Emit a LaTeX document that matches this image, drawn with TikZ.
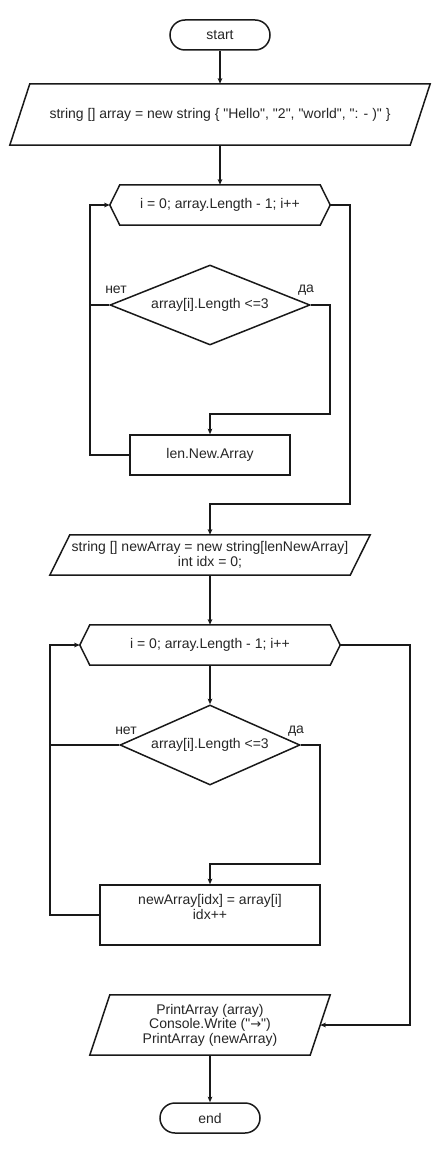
\documentclass[tikz,border=0pt]{standalone}
\usepackage{fontspec}
\setmainfont{Liberation Sans}[Ligatures=TeXOff]
\newfontfamily\arrowfont{DejaVu Sans}
\usetikzlibrary{shapes.geometric,arrows.meta,calc}

\begin{document}
\begin{tikzpicture}[x=1pt,y=-1pt,
  every node/.style={font=\fontsize{14}{14.5}\selectfont, text=black!85},
  ln/.style={line width=1.5pt, draw=black!90},
  arr/.style={ln, -{Stealth[length=5.5pt,width=4.5pt,inset=1pt]}},
  term/.style={ln, rounded corners=15pt, minimum width=100pt, minimum height=30pt, inner sep=0pt},
  frame/.style={inner sep=0pt, align=center},
  procbox/.style={ln, inner sep=0pt, align=center},
  cond/.style={diamond, aspect=2.5, ln, inner sep=0pt},
  tag/.style={inner sep=0pt},
]
\useasboundingbox[fill=white] (0,0) rectangle (440,1150);

% blocks
\node[term] (start) at (220,35) {start};
\node[frame, minimum width=420pt, minimum height=61pt] (p1) at (220,114.5)
  {string [] array = new string \{ "Hello", "2", "world", ": - )" \}};
\node[frame, minimum width=220pt, minimum height=40pt] (h1) at (220,205) {i = 0; array.Length - 1; i++};
\node[cond, minimum width=200pt, minimum height=80pt] (d1) at (210,305) {array[i].Length <=3};
\node[procbox, minimum width=160pt, minimum height=40pt] (b1) at (210,455) {len.New.Array};
\node[frame, minimum width=320pt, minimum height=40pt] (p2) at (210,555)
  {string [] newArray = new string[lenNewArray]\\int idx = 0;};
\node[frame, minimum width=260pt, minimum height=40pt] (h2) at (210,645) {i = 0; array.Length - 1; i++};
\node[cond, minimum width=180pt, minimum height=80pt] (d2) at (210,745) {array[i].Length <=3};
\node[procbox, minimum width=220pt, text height=34pt, text depth=26pt] (b2) at (210,915)
  {newArray[idx] = array[i]\\idx++};
\node[frame, minimum width=240pt, minimum height=60pt] (p3) at (210,1025)
  {PrintArray (array)\\Console.Write ("{\arrowfont\fontsize{13}{14.5}\selectfont →}")\\PrintArray (newArray)};
\node[term] (stop) at (210,1118) {end};

% input/output parallelograms
\draw[ln] ([xshift=20pt]p1.north west) -- (p1.north east) -- ([xshift=-20pt]p1.south east) -- (p1.south west) -- cycle;
\draw[ln] ([xshift=20pt]p2.north west) -- (p2.north east) -- ([xshift=-20pt]p2.south east) -- (p2.south west) -- cycle;
\draw[ln] ([xshift=20pt]p3.north west) -- (p3.north east) -- ([xshift=-20pt]p3.south east) -- (p3.south west) -- cycle;

% loop hexagons
\draw[ln] (h1.west) -- ([xshift=10pt]h1.north west) -- ([xshift=-10pt]h1.north east) -- (h1.east)
  -- ([xshift=-10pt]h1.south east) -- ([xshift=10pt]h1.south west) -- cycle;
\draw[ln] (h2.west) -- ([xshift=10pt]h2.north west) -- ([xshift=-10pt]h2.north east) -- (h2.east)
  -- ([xshift=-10pt]h2.south east) -- ([xshift=10pt]h2.south west) -- cycle;

% branch labels
\node[tag] (no1) at (116,290) {нет};
\node[tag] (yes1) at (306,290) {да};
\node[tag] (no2) at (126,731) {нет};
\node[tag] (yes2) at (296,731) {да};

% routing points
\coordinate (l1) at (90,0);
\coordinate (r1) at (330,414);
\coordinate (x1) at (350,504);
\coordinate (l2) at (50,0);
\coordinate (r2) at (320,864);
\coordinate (x2) at (410,0);

% connectors
\draw[arr] (start.south) -- (p1.north);
\draw[arr] (p1.south) -- (h1.north);
\draw[ln] (d1.west) -- (d1.west -| l1);
\draw[arr] (d1.east) -| (r1) -| (b1.north);
\draw[arr] (b1.west) -- (b1.west -| l1) |- (h1.west);
\draw[arr] (h1.east) -| (x1) -| (p2.north);
\draw[arr] (p2.south) -- (h2.north);
\draw[arr] (h2.south) -- (d2.north);
\draw[ln] (d2.west) -- (d2.west -| l2);
\draw[arr] (d2.east) -| (r2) -| (b2.north);
\draw[arr] (b2.west) -- (b2.west -| l2) |- (h2.west);
\draw[arr] (h2.east) -| (p3.east -| x2) -- ([xshift=-10pt]p3.east);
\draw[arr] (p3.south) -- (stop.north);
\end{tikzpicture}
\end{document}
